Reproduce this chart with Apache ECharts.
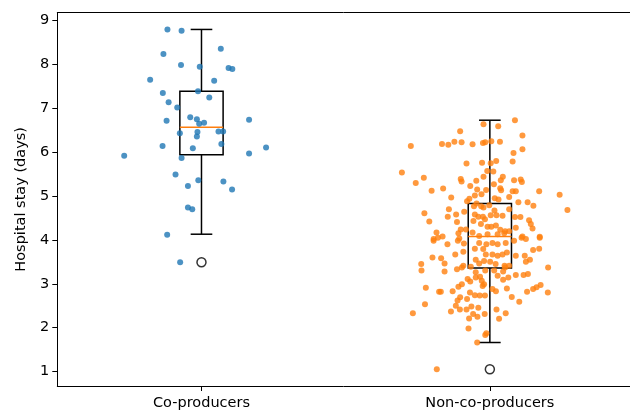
<!DOCTYPE html>
<html>
<head>
<meta charset="utf-8">
<script src="https://cdn.jsdelivr.net/npm/echarts@6/dist/echarts.min.js"></script>
<style>html,body{margin:0;padding:0;background:#fff}#c{width:630px;height:411px}</style>
</head>
<body>
<div id="c"></div>
<script>
// Categories and their positions on the x scale
const categories = ['Co-producers', 'Non-co-producers'];
const positions = [1, 2];
const yTicks = [1, 2, 3, 4, 5, 6, 7, 8, 9];

// Box statistics: [position, lowerWhisker, q1, median, q3, upperWhisker]
const boxStats = [
  [1, 4.13, 5.94, 6.57, 7.39, 8.80],
  [2, 1.66, 3.36, 4.08, 4.83, 6.73]
];
// Outliers: [position, value]
const outliers = [[1, 3.49], [2, 1.05]];

// Jittered points: [jittered x, hospital stay]
const coProducers = [
  [0.882,8.80],[0.931,8.77],[1.067,8.36],[0.868,8.24],[0.929,7.99],[0.994,7.95],[1.094,7.92],
  [1.107,7.90],[0.822,7.65],[1.044,7.63],[0.866,7.35],[0.988,7.39],[1.027,7.25],[0.886,7.14],
  [0.916,7.02],[0.879,6.72],[0.961,6.80],[0.984,6.75],[0.992,6.65],[1.009,6.67],[1.165,6.74],
  [0.925,6.43],[0.986,6.46],[0.984,6.36],[1.059,6.47],[1.075,6.47],[0.865,6.14],[0.970,6.09],
  [1.069,6.19],[1.224,6.11],[0.732,5.92],[1.165,5.97],[0.931,5.87],[0.910,5.49],[0.989,5.36],
  [0.953,5.23],[1.076,5.33],[1.106,5.15],[0.953,4.74],[0.968,4.70],[0.881,4.12],[0.926,3.49]
];
const nonCoProducers = [
  [1.978,6.64],[2.029,6.59],[2.087,6.73],[1.897,6.48],[2.113,6.38],[1.726,6.14],[1.834,6.19],
  [1.856,6.17],[1.877,6.24],[1.902,6.23],[1.940,6.18],[1.976,6.21],[1.984,6.23],[2.005,6.25],
  [2.035,6.24],[2.113,6.07],[2.082,5.98],[1.919,5.74],[1.973,5.76],[2.003,5.75],[2.022,5.80],
  [2.079,5.79],[1.695,5.54],[1.991,5.57],[2.012,5.56],[1.743,5.30],[1.771,5.42],[1.899,5.39],
  [1.902,5.33],[1.953,5.35],[1.978,5.44],[2.038,5.36],[2.045,5.44],[2.084,5.36],[2.107,5.38],
  [2.111,5.32],[1.798,5.12],[1.838,5.17],[1.932,5.23],[1.956,5.15],[1.987,5.14],[2.014,5.27],
  [2.036,5.18],[2.039,5.13],[2.079,5.11],[2.090,5.11],[2.171,5.11],[2.242,5.03],[1.866,4.97],
  [1.921,4.88],[1.929,4.94],[1.948,5.01],[1.971,5.04],[2.017,4.95],[2.030,4.92],[2.067,4.98],
  [2.099,4.86],[2.131,4.86],[2.151,4.78],[2.269,4.68],[1.773,4.61],[1.790,4.42],[1.858,4.70],
  [1.854,4.53],[1.883,4.58],[1.886,4.41],[1.911,4.64],[1.945,4.77],[1.954,4.83],[1.970,4.77],
  [1.978,4.74],[1.998,4.79],[2.016,4.67],[2.023,4.56],[2.003,4.56],[2.044,4.55],[2.067,4.70],
  [2.087,4.52],[2.106,4.52],[2.136,4.45],[2.142,4.36],[2.148,4.26],[1.948,4.58],[1.960,4.53],
  [1.976,4.53],[1.983,4.47],[1.943,4.43],[1.969,4.36],[1.992,4.30],[2.005,4.30],[2.021,4.33],
  [2.036,4.23],[2.053,4.20],[2.067,4.20],[1.899,4.24],[1.917,4.24],[1.891,4.15],[1.815,4.17],
  [1.820,4.05],[1.836,4.08],[1.805,4.02],[1.940,4.17],[1.963,4.09],[1.992,4.13],[2.027,4.13],
  [2.050,4.15],[2.090,4.28],[2.113,4.08],[2.173,4.07],[2.125,4.02],
  [1.805,3.98],[1.853,3.90],[1.889,3.98],[1.894,4.03],[1.910,3.92],[1.963,3.93],[1.988,3.90],
  [2.009,3.93],[2.027,3.90],[2.055,3.93],[2.084,3.98],[2.110,4.05],[2.173,4.05],[2.171,3.80],
  [2.150,3.77],[1.908,3.73],[1.880,3.67],[1.948,3.80],[1.977,3.79],[1.986,3.67],[2.009,3.67],
  [2.027,3.64],[2.044,3.67],[2.059,3.71],[2.090,3.64],[2.121,3.64],[2.139,3.55],[2.125,3.50],
  [1.801,3.60],[1.831,3.58],[1.843,3.46],[1.762,3.45],[1.763,3.30],[1.843,3.28],[1.908,3.41],
  [1.951,3.55],[1.963,3.46],[1.980,3.52],[2.001,3.50],[2.020,3.45],[2.051,3.41],[2.067,3.41],
  [1.886,3.33],[1.903,3.37],[1.934,3.39],[1.951,3.26],[1.984,3.30],[2.015,3.30],[2.046,3.28],
  [2.053,3.37],[2.027,3.18],[2.046,3.09],[2.064,3.14],[2.090,3.20],[2.117,3.20],[2.132,3.22],
  [2.202,3.37],[1.923,3.11],[1.932,3.05],[1.951,3.14],[1.966,3.16],[1.972,3.07],[1.975,2.95],
  [1.980,2.99],[1.903,2.99],[1.891,2.93],[1.871,2.83],[1.824,2.82],[1.830,2.82],[1.778,2.91],
  [1.931,2.80],[1.948,2.74],[1.965,2.73],[1.983,2.73],[2.009,2.88],[2.021,2.83],[2.059,2.89],
  [2.076,2.70],[2.102,2.59],[2.129,2.82],[2.150,2.88],[2.162,2.92],[2.176,2.97],[2.201,2.80],
  [1.921,2.65],[1.888,2.62],[1.897,2.69],[1.882,2.50],[1.775,2.53],[1.733,2.33],[1.865,2.37],
  [1.896,2.41],[1.919,2.41],[1.936,2.48],[1.960,2.45],[1.942,2.31],[1.957,2.25],[1.982,2.31],
  [2.023,2.41],[2.055,2.33],[2.032,2.20],[1.928,2.21],[1.926,1.98],[1.984,1.83],[1.988,1.87],
  [1.956,1.66],[1.816,1.05]
];

const boxWidth = 0.15;
const FONT = 'DejaVu Sans';
const FS = 14.5;

const chart = echarts.init(document.getElementById('c'), null, {renderer: 'canvas'});

function renderBox(params, api) {
  const x = api.value(0);
  const lo = api.coord([x, api.value(1)]);
  const q1 = api.coord([x, api.value(2)]);
  const md = api.coord([x, api.value(3)]);
  const q3 = api.coord([x, api.value(4)]);
  const hi = api.coord([x, api.value(5)]);
  const w = api.size([boxWidth, 0])[0];
  const cx = lo[0];
  const line = {stroke: '#000', lineWidth: 1.5};
  return {
    type: 'group',
    children: [
      {type: 'rect', shape: {x: cx - w / 2, y: q3[1], width: w, height: q1[1] - q3[1]}, style: {fill: 'none', stroke: '#000', lineWidth: 1.5}},
      {type: 'line', shape: {x1: cx, y1: q3[1], x2: cx, y2: hi[1]}, style: line},
      {type: 'line', shape: {x1: cx, y1: q1[1], x2: cx, y2: lo[1]}, style: line},
      {type: 'line', shape: {x1: cx - w / 4, y1: hi[1], x2: cx + w / 4, y2: hi[1]}, style: line},
      {type: 'line', shape: {x1: cx - w / 4, y1: lo[1], x2: cx + w / 4, y2: lo[1]}, style: line},
      {type: 'line', shape: {x1: cx - w / 2, y1: md[1], x2: cx + w / 2, y2: md[1]}, style: {stroke: '#ff7f0e', lineWidth: 1.5}}
    ]
  };
}

chart.setOption({
  animation: false,
  backgroundColor: '#fff',
  grid: {left: 57.3, right: 0, top: 12.7, bottom: 23.7},
  xAxis: [{
    type: 'value', min: 0.5, max: 2.486, position: 'bottom',
    splitLine: {show: false},
    axisLine: {show: true, onZero: false, lineStyle: {color: '#000', width: 1}},
    axisTick: {show: true, length: 5, customValues: positions, lineStyle: {color: '#000'}},
    axisLabel: {
      customValues: positions, margin: 10, color: '#000', fontSize: FS, fontFamily: FONT,
      formatter: v => categories[positions.indexOf(v)] || ''
    }
  }, {
    type: 'value', min: 0.5, max: 2.486, position: 'top',
    splitLine: {show: false},
    axisLine: {show: true, onZero: false, lineStyle: {color: '#000', width: 1}},
    axisTick: {show: false}, axisLabel: {show: false}
  }],
  yAxis: {
    type: 'value', min: 0.668, max: 9.182,
    name: 'Hospital stay (days)', nameLocation: 'middle', nameGap: 28, nameRotate: 90,
    nameTextStyle: {color: '#000', fontSize: FS, fontFamily: FONT},
    splitLine: {show: false},
    axisLine: {show: true, onZero: false, lineStyle: {color: '#000', width: 1}},
    axisTick: {show: true, length: 5, customValues: yTicks, lineStyle: {color: '#000'}},
    axisLabel: {customValues: yTicks, margin: 8, color: '#000', fontSize: FS, fontFamily: FONT}
  },
  series: [
    {
      type: 'custom', renderItem: renderBox, data: boxStats, z: 2,
      encode: {x: 0, y: [1, 2, 3, 4, 5]}, clip: false
    },
    {
      type: 'scatter', data: outliers, symbol: 'circle', symbolSize: 9, z: 3,
      itemStyle: {color: 'rgba(0,0,0,0)', borderColor: '#000', borderWidth: 1.5}
    },
    {
      type: 'scatter', data: coProducers, symbolSize: 6, z: 4,
      itemStyle: {color: '#1f77b4', opacity: 0.8}
    },
    {
      type: 'scatter', data: nonCoProducers, symbolSize: 6, z: 4,
      itemStyle: {color: '#ff7f0e', opacity: 0.8}
    }
  ]
});
</script>
</body>
</html>
